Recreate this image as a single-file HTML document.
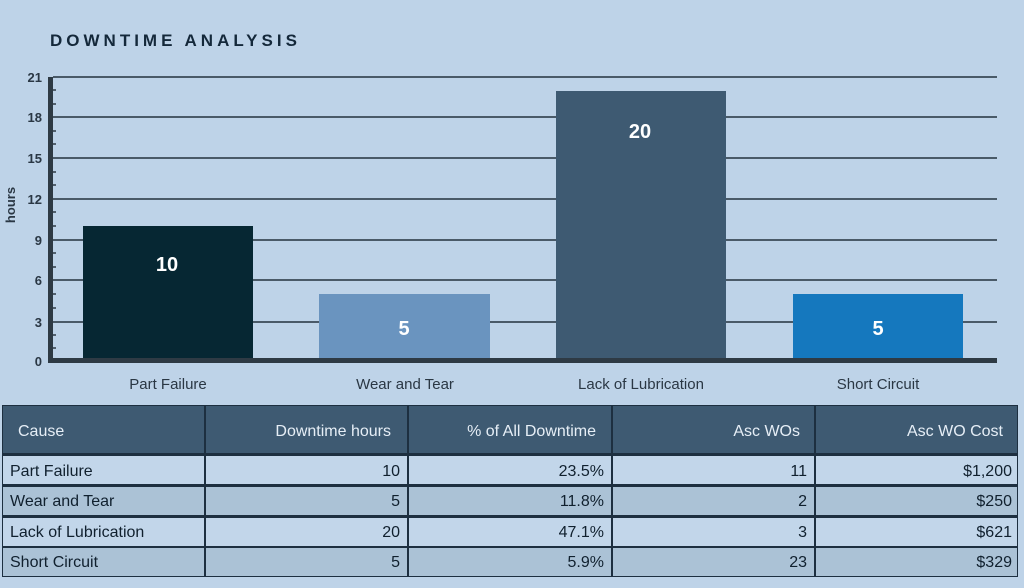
<!DOCTYPE html>
<html><head><meta charset="utf-8"><style>
html,body{margin:0;padding:0;background:#bed3e8;}
svg{display:block}
text{font-family:"Liberation Sans",sans-serif}
</style></head><body>
<svg width="1024" height="588" viewBox="0 0 1024 588" xmlns="http://www.w3.org/2000/svg">
<rect width="1024" height="588" fill="#bed3e8"/>
<text x="50" y="46" font-size="17" font-weight="bold" fill="#14283a" letter-spacing="4">DOWNTIME ANALYSIS</text>
<g stroke="#4a5a68" stroke-width="2">
<line x1="53" y1="77" x2="997" y2="77"/>
<line x1="53" y1="117" x2="997" y2="117"/>
<line x1="53" y1="158" x2="997" y2="158"/>
<line x1="53" y1="199" x2="997" y2="199"/>
<line x1="53" y1="240" x2="997" y2="240"/>
<line x1="53" y1="280" x2="997" y2="280"/>
<line x1="53" y1="322" x2="997" y2="322"/>
</g>
<g stroke="#2e3a44" stroke-width="1.5">
<line x1="53" y1="90" x2="56" y2="90"/><line x1="53" y1="104" x2="56" y2="104"/>
<line x1="53" y1="131" x2="56" y2="131"/><line x1="53" y1="144" x2="56" y2="144"/>
<line x1="53" y1="172" x2="56" y2="172"/><line x1="53" y1="185" x2="56" y2="185"/>
<line x1="53" y1="212" x2="56" y2="212"/><line x1="53" y1="226" x2="56" y2="226"/>
<line x1="53" y1="253" x2="56" y2="253"/><line x1="53" y1="267" x2="56" y2="267"/>
<line x1="53" y1="294" x2="56" y2="294"/><line x1="53" y1="308" x2="56" y2="308"/>
<line x1="53" y1="335" x2="56" y2="335"/><line x1="53" y1="348" x2="56" y2="348"/>
</g>
<rect x="83" y="226" width="170" height="135" fill="#062733"/>
<rect x="319" y="294" width="171" height="67" fill="#6a94bf"/>
<rect x="556" y="91" width="170" height="270" fill="#3e5a72"/>
<rect x="793" y="294" width="170" height="67" fill="#1578be"/>
<rect x="48" y="358" width="949" height="5" fill="#2e3a44"/>
<rect x="48" y="77" width="5" height="286" fill="#2e3a44"/>
<g font-size="20" font-weight="bold" fill="#fff" text-anchor="middle">
<text x="167" y="271">10</text><text x="404" y="335">5</text>
<text x="640" y="138">20</text><text x="878" y="335">5</text>
</g>
<g font-size="13" font-weight="bold" fill="#2a3744" text-anchor="end">
<text x="42" y="82">21</text><text x="42" y="122">18</text><text x="42" y="163">15</text>
<text x="42" y="204">12</text><text x="42" y="245">9</text><text x="42" y="285">6</text>
<text x="42" y="327">3</text><text x="42" y="366">0</text>
</g>
<text transform="translate(15,205) rotate(-90)" font-size="13" font-weight="bold" fill="#2a3744" text-anchor="middle">hours</text>
<g font-size="15" fill="#2a3744" text-anchor="middle">
<text x="168" y="389">Part Failure</text><text x="405" y="389">Wear and Tear</text>
<text x="641" y="389">Lack of Lubrication</text><text x="878" y="389">Short Circuit</text>
</g>
<rect x="2" y="405" width="1016" height="172" fill="#1d2f40"/>
<rect x="3" y="406" width="1014" height="47" fill="#3e5a72"/>
<g>
<rect x="3" y="456" width="1014" height="28" fill="#c2d6ea"/>
<rect x="3" y="487" width="1014" height="28" fill="#abc2d6"/>
<rect x="3" y="518" width="1014" height="28" fill="#c2d6ea"/>
<rect x="3" y="548" width="1014" height="28" fill="#abc2d6"/>
</g>
<g stroke="#1d2f40" stroke-width="2">
<line x1="205" y1="405" x2="205" y2="577"/><line x1="408" y1="405" x2="408" y2="577"/>
<line x1="612" y1="405" x2="612" y2="577"/><line x1="815" y1="405" x2="815" y2="577"/>
</g>
<g font-size="16" fill="#e6eef6">
<text x="18" y="436">Cause</text>
<text x="391" y="436" text-anchor="end">Downtime hours</text>
<text x="596" y="436" text-anchor="end">% of All Downtime</text>
<text x="800" y="436" text-anchor="end">Asc WOs</text>
<text x="1003" y="436" text-anchor="end">Asc WO Cost</text>
</g>
<g font-size="16" fill="#10202e">
<text x="10" y="476">Part Failure</text><text x="10" y="506">Wear and Tear</text>
<text x="10" y="537">Lack of Lubrication</text><text x="10" y="567">Short Circuit</text>
<g text-anchor="end">
<text x="400" y="476">10</text><text x="400" y="506">5</text><text x="400" y="537">20</text><text x="400" y="567">5</text>
<text x="604" y="476">23.5%</text><text x="604" y="506">11.8%</text><text x="604" y="537">47.1%</text><text x="604" y="567">5.9%</text>
<text x="807" y="476">11</text><text x="807" y="506">2</text><text x="807" y="537">3</text><text x="807" y="567">23</text>
<text x="1012" y="476">$1,200</text><text x="1012" y="506">$250</text><text x="1012" y="537">$621</text><text x="1012" y="567">$329</text>
</g>
</g>
</svg>
</body></html>
